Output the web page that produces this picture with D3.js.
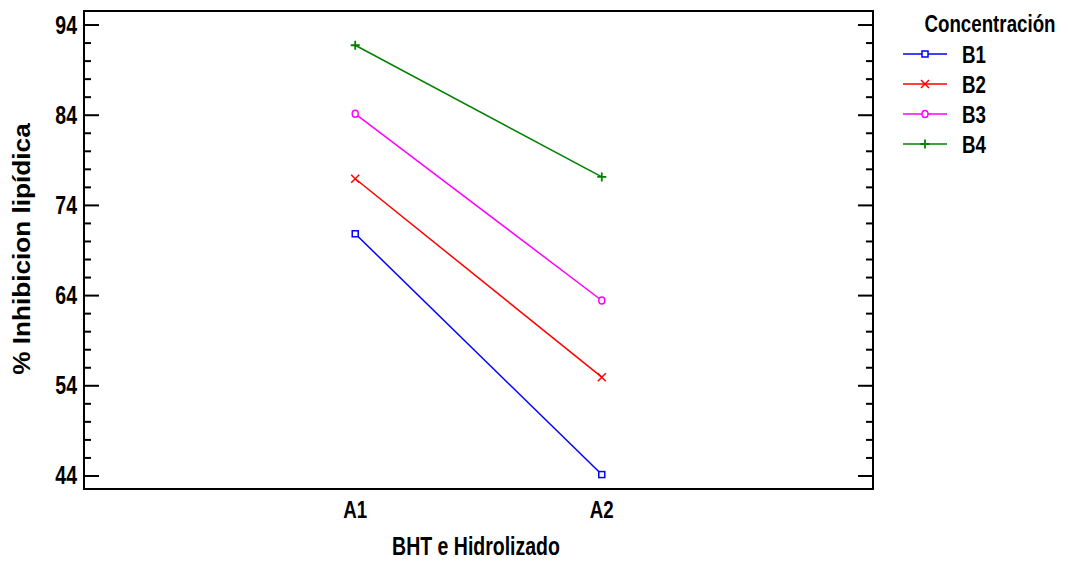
<!DOCTYPE html>
<html>
<head>
<meta charset="utf-8">
<script src="https://cdn.jsdelivr.net/npm/d3@7"></script>
<style>
  html, body { margin: 0; padding: 0; background: #fff; }
  svg { display: block; }
  .narrow { font-family: "Liberation Sans", Arial, sans-serif; font-weight: bold; }
</style>
</head>
<body>
<svg id="chart" width="1068" height="563"></svg>
<script>
// Interaction plot: % lipid inhibition by factor level and concentration
const levels = ["A1", "A2"];
const seriesNames = ["B1", "B2", "B3", "B4"];
const seriesColors = ["#0000ff", "#ff0000", "#ff00ff", "#008000"];
const seriesMarkers = ["square", "cross", "circle", "plus"];
const valuesB1 = [70.8, 44.1];
const valuesB2 = [76.9, 54.9];
const valuesB3 = [84.1, 63.4];
const valuesB4 = [91.7, 77.1];
const yTickValues = [44, 54, 64, 74, 84, 94];

const series = seriesNames.map((name, i) => ({
  name,
  color: seriesColors[i],
  marker: seriesMarkers[i],
  values: [valuesB1, valuesB2, valuesB3, valuesB4][i]
}));

const svg = d3.select("#chart");
const plot = { left: 84, top: 11, right: 873, bottom: 489 };

const x = d3.scaleLinear().domain([-0.1, 3.1]).range([plot.left, plot.right]);
const y = d3.scaleLinear().domain([42.5, 95.5]).range([plot.bottom, plot.top]);

// condensed bold label: horizontally compressed sans text
const squeeze = 0.78;
function narrowText(parent, tx, ty, str, size, anchor, dy) {
  return parent.append("text")
    .attr("class", "narrow")
    .attr("transform", `translate(${tx},${ty}) scale(${squeeze},1)`)
    .attr("text-anchor", anchor || "start")
    .attr("dy", dy || 0)
    .attr("font-size", size)
    .text(str);
}

// frame
svg.append("rect")
  .attr("x", plot.left).attr("y", plot.top)
  .attr("width", plot.right - plot.left).attr("height", plot.bottom - plot.top)
  .attr("fill", "none").attr("stroke", "#000").attr("stroke-width", 2);

// inward ticks on left and right sides
const minorTicks = d3.range(44, 95, 2).filter(v => !yTickValues.includes(v));
const leftAxis = d3.axisRight(y).tickValues(yTickValues).tickSize(15).tickFormat("");
const leftMinor = d3.axisRight(y).tickValues(minorTicks).tickSize(7).tickFormat("");
const rightAxis = d3.axisLeft(y).tickValues(yTickValues).tickSize(15).tickFormat("");
const rightMinor = d3.axisLeft(y).tickValues(minorTicks).tickSize(7).tickFormat("");

[[leftAxis, plot.left], [leftMinor, plot.left], [rightAxis, plot.right], [rightMinor, plot.right]].forEach(([ax, px]) => {
  const g = svg.append("g").attr("transform", `translate(${px},0)`).call(ax);
  g.select(".domain").remove();
  g.selectAll("line").attr("stroke", "#000").attr("stroke-width", 2);
});

// y tick labels
const yLabels = svg.append("g");
yTickValues.forEach(v => narrowText(yLabels, plot.left - 7, y(v), v, 25, "end", "0.36em"));

// x labels
const xLabels = svg.append("g");
levels.forEach((d, i) => narrowText(xLabels, x(i + 1), 518, d, 24, "middle"));

narrowText(svg, 476, 555, "BHT e Hidrolizado", 25, "middle");

svg.append("text")
  .attr("transform", `translate(30,249) rotate(-90) scale(1.09,1)`)
  .attr("text-anchor", "middle")
  .attr("font-family", "Liberation Sans, Arial, sans-serif")
  .attr("font-weight", "bold").attr("font-size", 24)
  .text("% Inhibicion lipídica");

// marker drawing
function drawMarker(g, type, cx, cy, color) {
  const s = 3;
  if (type === "square") {
    g.append("rect").attr("x", cx - s).attr("y", cy - s).attr("width", 2 * s).attr("height", 2 * s)
      .attr("fill", "#fff").attr("stroke", color).attr("stroke-width", 1.5);
  } else if (type === "circle") {
    g.append("ellipse").attr("cx", cx).attr("cy", cy).attr("rx", 3).attr("ry", 3.5)
      .attr("fill", "#fff").attr("stroke", color).attr("stroke-width", 1.5);
  } else if (type === "cross") {
    const r = 4;
    g.append("path").attr("d", `M${cx - r},${cy - r}L${cx + r},${cy + r}M${cx - r},${cy + r}L${cx + r},${cy - r}`)
      .attr("stroke", color).attr("stroke-width", 1.5);
  } else if (type === "plus") {
    const r = 4.5;
    g.append("path").attr("d", `M${cx - r},${cy}L${cx + r},${cy}M${cx},${cy - r}L${cx},${cy + r}`)
      .attr("stroke", color).attr("stroke-width", 1.8);
  }
}

const line = d3.line().x((d, i) => x(i + 1)).y(d => y(d));

series.forEach(s => {
  const g = svg.append("g");
  g.append("path").datum(s.values).attr("d", line)
    .attr("fill", "none").attr("stroke", s.color).attr("stroke-width", 1.5);
  s.values.forEach((v, i) => drawMarker(g, s.marker, x(i + 1), y(v), s.color));
});

// legend
narrowText(svg, 990, 32, "Concentración", 24, "middle");

series.forEach((s, i) => {
  const ly = 54 + i * 30;
  const g = svg.append("g");
  g.append("line").attr("x1", 903).attr("x2", 947).attr("y1", ly).attr("y2", ly)
    .attr("stroke", s.color).attr("stroke-width", 1.5);
  drawMarker(g, s.marker, 925, ly, s.color);
  narrowText(g, 962, ly, s.name, 24, "start", "0.36em");
});
</script>
</body>
</html>
